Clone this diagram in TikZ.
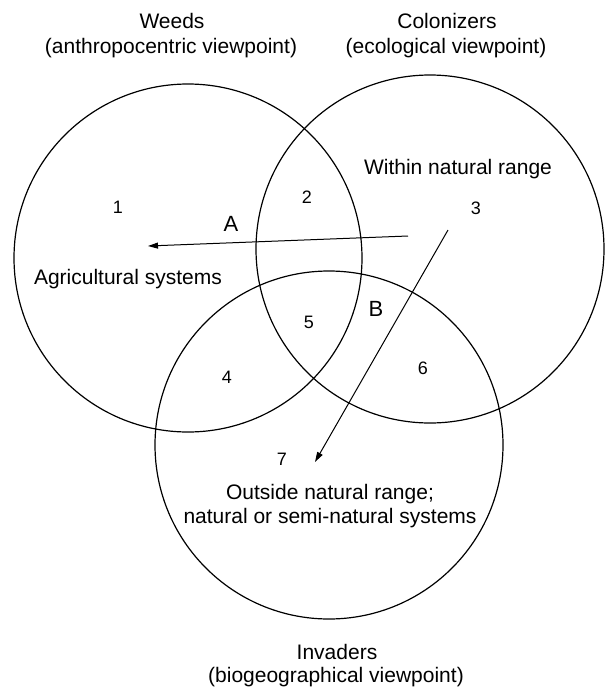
\documentclass[tikz,border=0pt]{standalone}
\usepackage{fontspec}
\setmainfont{Liberation Sans}
\usetikzlibrary{arrows.meta}
\tikzset{
  ring/.style={draw, line width=1.2pt},
  lbl/.style={inner sep=0pt, font=\fontsize{21}{24}\selectfont, anchor=base},
  num/.style={inner sep=0pt, font=\fontsize{18}{20}\selectfont},
  letter/.style={inner sep=0pt, font=\fontsize{22}{24}\selectfont},
  flow/.style={line width=1pt, -{Triangle[length=10pt,width=6pt]}}
}
\begin{document}
\begin{tikzpicture}[x=1pt,y=-1pt]
\useasboundingbox (0,0) rectangle (607,691);
% circles
\draw[ring] (188,258) circle (174);
\draw[ring] (430,249) circle (174);
\draw[ring] (329,445) circle (174);
% captions
\node[lbl] (weeds) at (172,28) {Weeds};
\node[lbl] (weedsv) at (171,53) {(anthropocentric viewpoint)};
\node[lbl] (colon) at (447,28) {Colonizers};
\node[lbl] (colonv) at (446,53) {(ecological viewpoint)};
\node[lbl] (inv) at (337,659) {Invaders};
\node[lbl] (invv) at (336,682) {(biogeographical viewpoint)};
% inner texts
\node[lbl] (agri) at (128,284) {Agricultural systems};
\node[lbl] (within) at (458,174) {Within natural range};
\node[lbl] (out1) at (330,499) {Outside natural range;};
\node[lbl] (out2) at (330,523) {natural or semi-natural systems};
% numbers
\node[num] (n1) at (118,207) {1};
\node[num] (n2) at (307,197) {2};
\node[num] (n3) at (476,208) {3};
\node[num] (n4) at (227,377) {4};
\node[num] (n5) at (309,322) {5};
\node[num] (n6) at (423,368) {6};
\node[num] (n7) at (282,459) {7};
% letters
\node[letter] (la) at (231,224) {A};
\node[letter] (lb) at (376,309) {B};
% arrows
\coordinate (a0) at (408,236);
\coordinate (a1) at (148,246);
\coordinate (b0) at (448,230);
\coordinate (b1) at (315,462);
\draw[flow] (a0) -- (a1);
\draw[flow] (b0) -- (b1);
\end{tikzpicture}
\end{document}
